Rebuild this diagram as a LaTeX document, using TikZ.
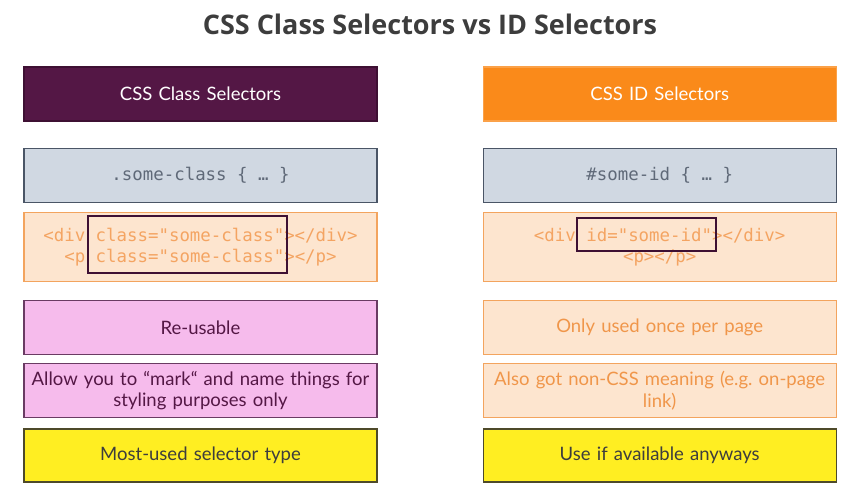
\documentclass[tikz,border=0pt]{standalone}
\usepackage{fontspec}
\setmainfont{Lato}
\setmonofont{DejaVu Sans Mono}
\newfontfamily\titlefont{Open Sans}
\usetikzlibrary{positioning}
\definecolor{plum}{HTML}{541745}
\definecolor{plumline}{HTML}{3E1033}
\definecolor{tangerine}{HTML}{FA8A1A}
\definecolor{slatefill}{HTML}{D0D8E2}
\definecolor{slateline}{HTML}{4A5566}
\definecolor{slatetext}{HTML}{5F6978}
\definecolor{peach}{HTML}{FDE5CF}
\definecolor{peachline}{HTML}{F3A45E}
\definecolor{peachtext}{HTML}{F4A462}
\definecolor{orangetext}{HTML}{F0964A}
\definecolor{pinkfill}{HTML}{F6BBEC}
\definecolor{pinkline}{HTML}{6A3B63}
\definecolor{lemon}{HTML}{FFEE22}
\definecolor{lemonline}{HTML}{4E4A2A}
\definecolor{ink}{HTML}{3D3D3D}
\newcommand{\tsp}{\hbox to 0.602em{}}

\begin{document}
\begin{tikzpicture}[x=1pt, y=-1pt, node distance=9pt and 105pt,
  box/.style={draw, line width=1.2pt, minimum width=353pt, minimum height=54pt, inner sep=0pt, align=center, text width=345pt, font=\fontsize{18.5}{21.5}\selectfont},
  headL/.style={box, fill=plum, draw=plumline, text=white},
  headR/.style={box, fill=tangerine, draw=tangerine!80!white, text=white},
  codebox/.style={box, fill=slatefill, draw=slateline, text=slatetext, font=\ttfamily\fontsize{17.4}{21}\selectfont},
  htmlbox/.style={box, fill=peach, draw=peachline, text=peachtext, minimum height=69pt, font=\ttfamily\fontsize{17.4}{21}\selectfont},
  pinkbox/.style={box, fill=pinkfill, draw=pinkline, text=plum},
  peachbox/.style={box, fill=peach, draw=peachline, text=orangetext},
  lemonbox/.style={box, fill=lemon, draw=lemonline, text=ink},
  attrbox/.style={draw=plumline, line width=2pt, inner sep=0pt}]
  \useasboundingbox (0,0) rectangle (857,483);
  \node[font=\titlefont\bfseries\fontsize{27}{32}\selectfont, text=ink] (title) at (430,24) {CSS Class Selectors vs ID Selectors};
  % class column
  \node[headL] (clsHead) at (200.5,94) {CSS Class Selectors};
  \node[codebox, below=26pt of clsHead] (clsCode) {.some-class\tsp\{\tsp…\tsp\}};
  \node[htmlbox, below=of clsCode] (clsHtml) {<div\tsp class="some-class"></div>\\<p\tsp class="some-class"></p>};
  \node[pinkbox, below=18pt of clsHtml] (clsReuse) {Re-usable};
  \node[pinkbox, below=8pt of clsReuse] (clsMark) {Allow you to “mark“ and name things for\\styling purposes only};
  \node[lemonbox, below=10pt of clsMark, minimum height=53pt] (clsMost) {Most-used selector type};
  % id column
  \node[headR, right=of clsHead] (idHead) {CSS ID Selectors};
  \node[codebox, right=of clsCode] (idCode) {\#some-id\tsp\{\tsp…\tsp\}};
  \node[htmlbox, right=of clsHtml] (idHtml) {<div\tsp id="some-id"></div>\\<p></p>};
  \node[peachbox, right=of clsReuse] (idOnce) {Only used once per page};
  \node[peachbox, right=of clsMark] (idLink) {Also got non-CSS meaning (e.g.\ on-page\\link)};
  \node[lemonbox, right=of clsMost, minimum height=53pt] (idUse) {Use if available anyways};
  % highlights
  \node[attrbox, minimum width=199pt, minimum height=57pt] (clsAttr) at (187.5,244.5) {};
  \node[attrbox, minimum width=139pt, minimum height=33pt] (idAttr) at (646.5,234.5) {};
\end{tikzpicture}
\end{document}
